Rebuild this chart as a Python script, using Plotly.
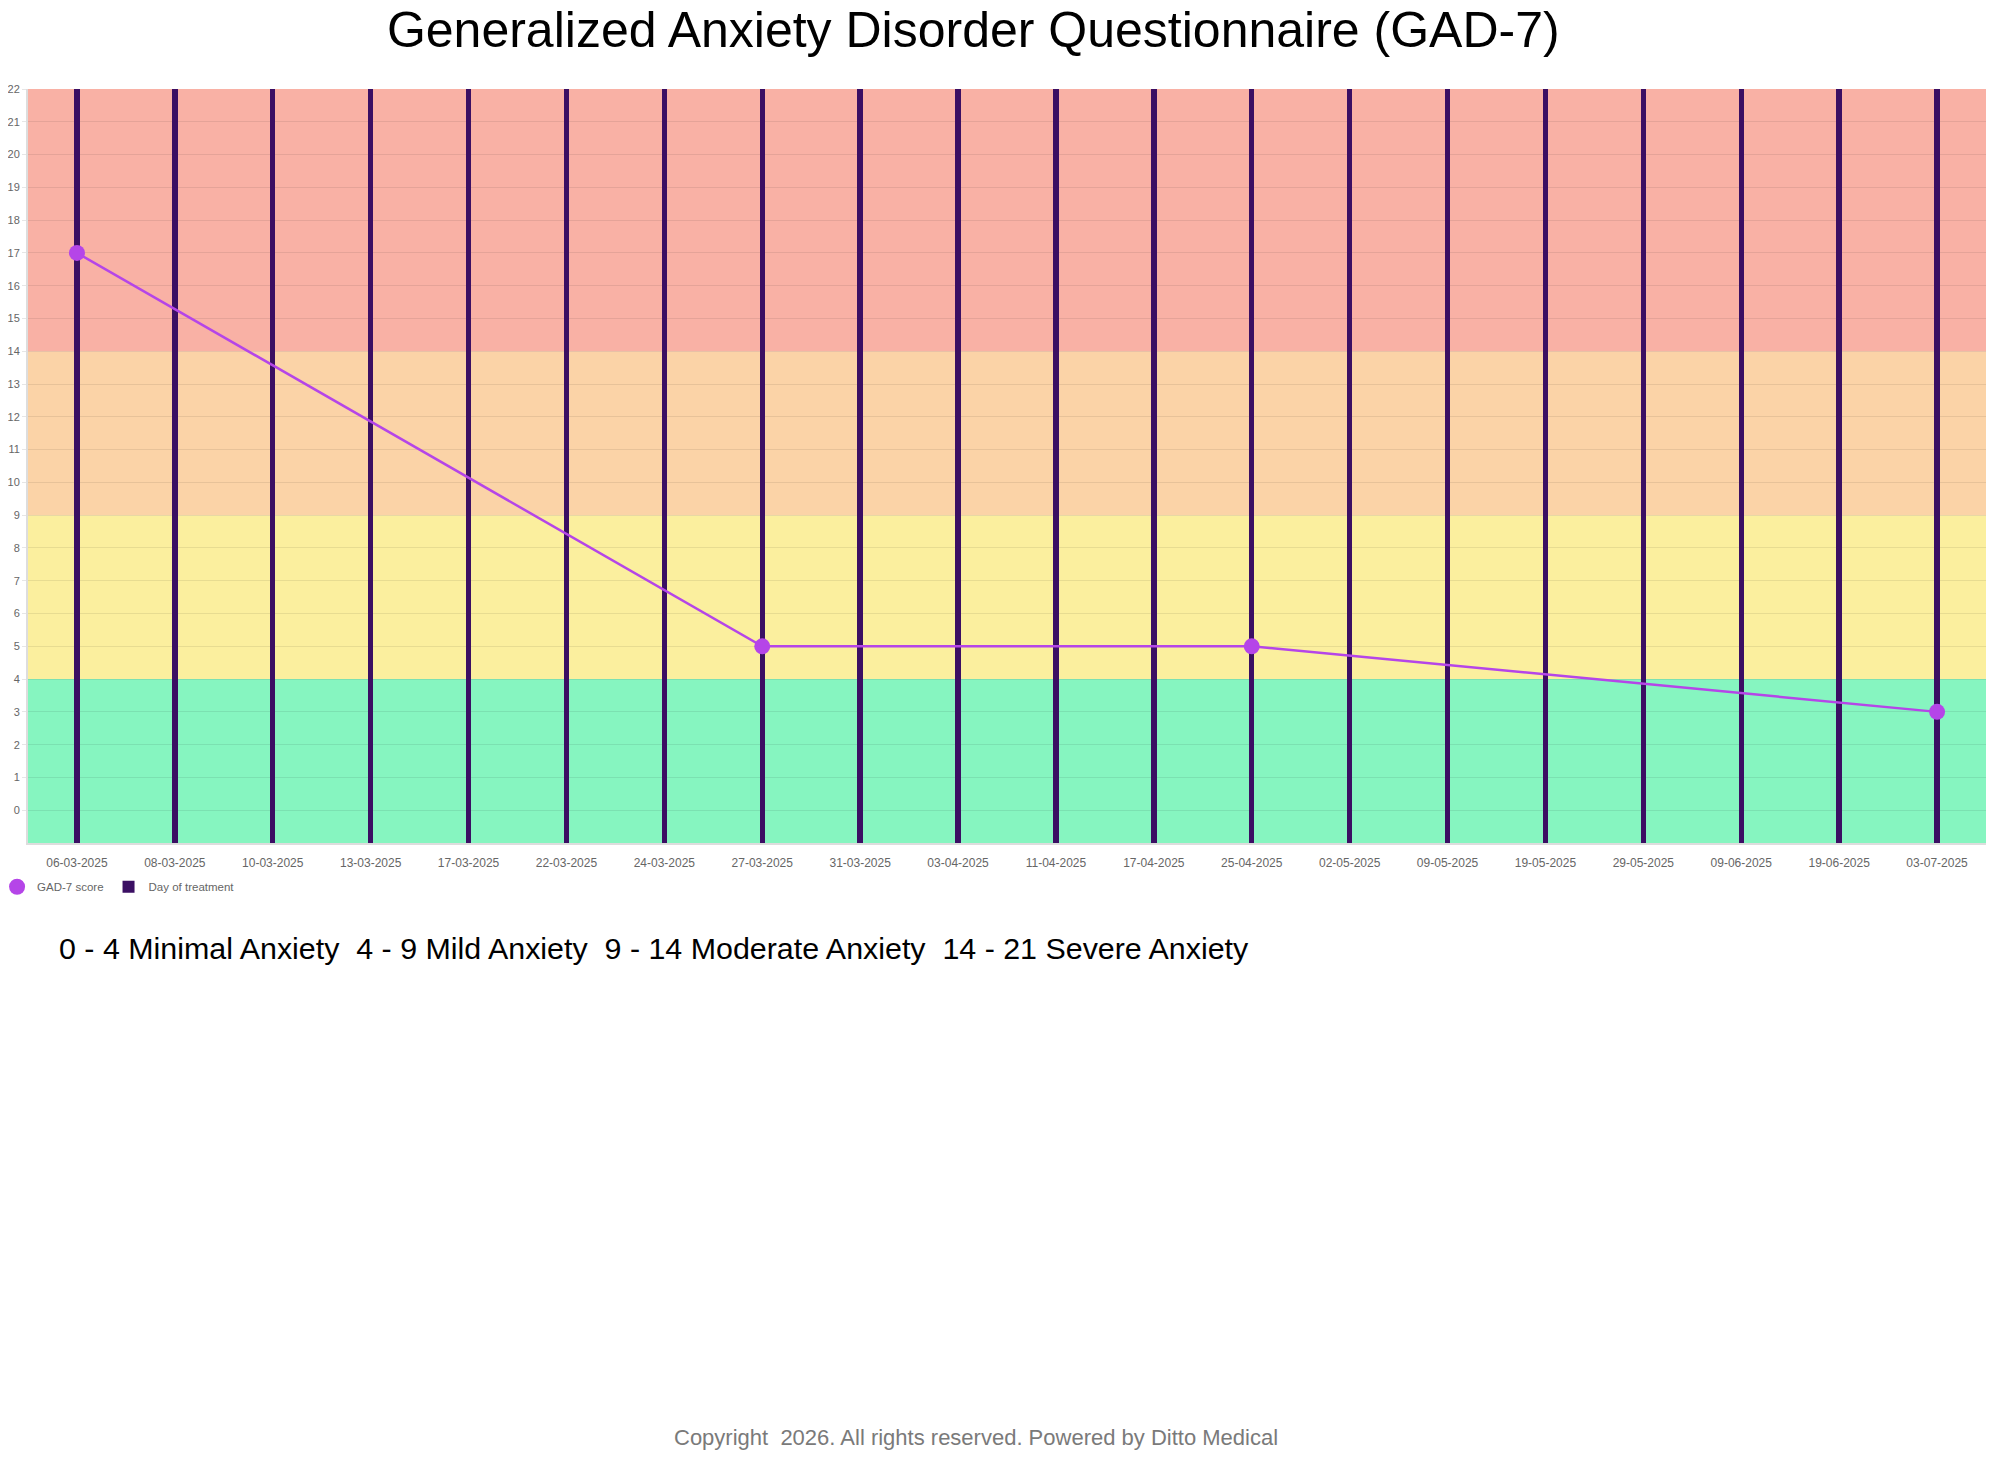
import plotly.graph_objects as go

dates = ['06-03-2025', '08-03-2025', '10-03-2025', '13-03-2025', '17-03-2025',
         '22-03-2025', '24-03-2025', '27-03-2025', '31-03-2025', '03-04-2025',
         '11-04-2025', '17-04-2025', '25-04-2025', '02-05-2025', '09-05-2025',
         '19-05-2025', '29-05-2025', '09-06-2025', '19-06-2025', '03-07-2025']

score_dates = ['06-03-2025', '27-03-2025', '25-04-2025', '03-07-2025']
scores = [17, 5, 5, 3]

# severity bands (from, to, label, colour)
band_lo = [-1, 4, 9, 14]
band_hi = [4, 9, 14, 22]
band_colors = ['#86f5c0', '#fbef9e', '#fbd3a7', '#f9b1a5']
band_text = ['0 - 4 Minimal Anxiety', '4 - 9 Mild Anxiety',
             '9 - 14 Moderate Anxiety', '14 - 21 Severe Anxiety']

y_min = -1
y_max = 22

fig = go.Figure()

fig.add_trace(go.Bar(
    x=dates,
    y=[y_max - y_min] * len(dates),
    base=y_min,
    width=0.055,
    name='Day of treatment',
    marker=dict(color='#3b0f63', line=dict(width=0)),
    hoverinfo='x',
))

fig.add_trace(go.Scatter(
    x=score_dates,
    y=scores,
    mode='lines+markers',
    name='GAD-7 score',
    legendgroup='gad',
    showlegend=False,
    line=dict(color='#b545e8', width=2.5),
    marker=dict(color='#b545e8', size=16),
))
# legend entry: marker only, like the original
fig.add_trace(go.Scatter(
    x=[None], y=[None], mode='markers', name='GAD-7 score', legendgroup='gad',
    marker=dict(color='#b545e8', size=16),
))

for lo, hi, col in zip(band_lo, band_hi, band_colors):
    fig.add_shape(type='rect', xref='paper', yref='y', x0=0, x1=1, y0=lo, y1=hi,
                  fillcolor=col, line=dict(width=0), layer='below')

fig.add_annotation(
    text='  '.join(band_text), xref='paper', yref='paper',
    x=0.0148, y=-0.139, xanchor='left', yanchor='middle', showarrow=False,
    font=dict(size=30.4, color='#000000'),
)
fig.add_annotation(
    text='Copyright  2026. All rights reserved. Powered by Ditto Medical',
    xref='paper', yref='paper', x=0.484, y=-0.789, xanchor='center', yanchor='middle',
    showarrow=False, font=dict(size=22, color='#7a7a7a'),
)

fig.update_layout(
    width=1978, height=1442,
    margin=dict(l=20, r=0, t=81, b=607, autoexpand=False),
    paper_bgcolor='white', plot_bgcolor='white',
    font=dict(family='Liberation Sans, Arial, sans-serif', color='#666666', size=11),
    title=dict(text='Generalized Anxiety Disorder Questionnaire (GAD-7)',
               x=0.488, xanchor='center', y=1 - 21 / 1442, yanchor='middle',
               yref='container', font=dict(size=50, color='#000000')),
    showlegend=True,
    legend=dict(orientation='h', x=-0.0158, y=-0.058, xanchor='left', yanchor='middle',
                traceorder='reversed', font=dict(size=11.5, color='#666666'),
                bgcolor='rgba(0,0,0,0)', itemwidth=30),
    bargap=0,
)

fig.update_xaxes(
    type='category', categoryorder='array', categoryarray=dates,
    range=[-0.5, len(dates) - 0.5],
    showgrid=False, showline=True, linecolor='#dddddd', linewidth=2,
    ticks='outside', ticklen=8, tickcolor='rgba(0,0,0,0)',
    tickfont=dict(size=12, color='#666666'), tickangle=0, automargin=False,
)
fig.update_yaxes(
    range=[y_min, y_max], tickvals=list(range(0, 23)),
    showgrid=True, gridcolor='rgba(0,0,0,0.08)', gridwidth=1,
    showline=True, linecolor='#dddddd', linewidth=2,
    ticks='outside', ticklen=4, tickcolor='#e6e6e6',
    tickfont=dict(size=11, color='#666666'), zeroline=False, automargin=False,
)

fig.write_html('out.html')
